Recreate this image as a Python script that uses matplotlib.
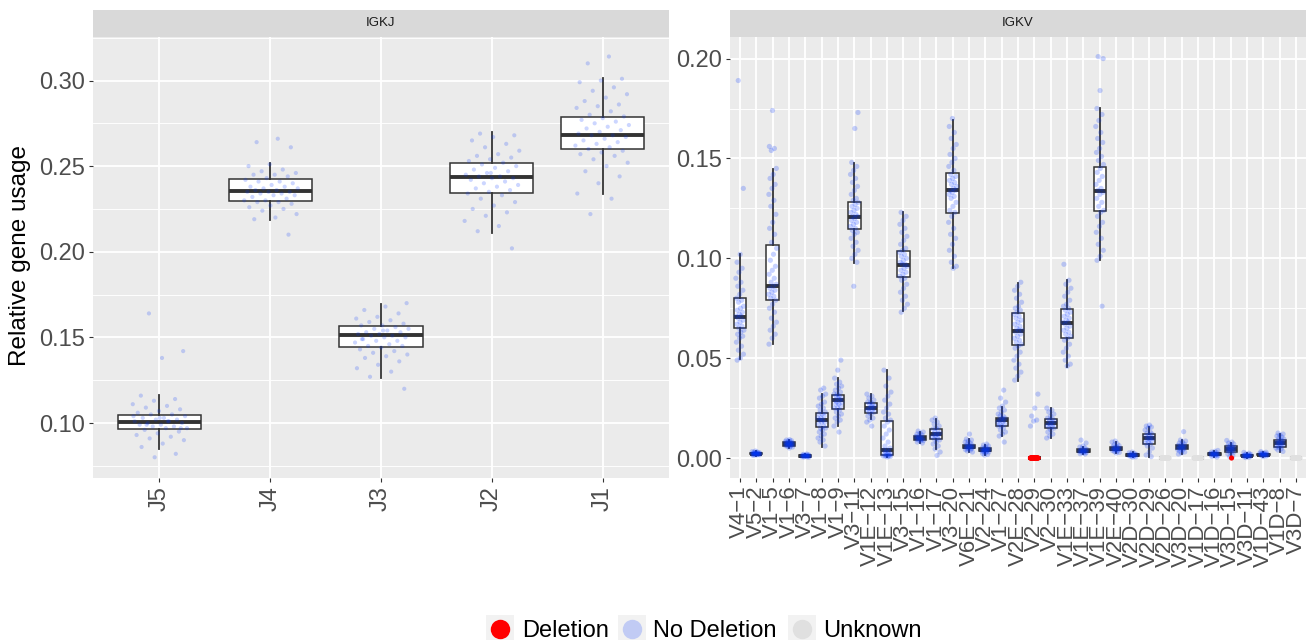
import numpy as np
import matplotlib
matplotlib.use("Agg")
import matplotlib.pyplot as plt
from matplotlib.lines import Line2D
from matplotlib.patches import Rectangle
from matplotlib import font_manager

# ---------------- data ----------------
igkj_genes = ["J5", "J4", "J3", "J2", "J1"]
igkj_q1 = [0.0965, 0.2294, 0.1443, 0.2341, 0.2598]
igkj_med = [0.1006, 0.2353, 0.1513, 0.2434, 0.2679]
igkj_q3 = [0.1047, 0.2423, 0.1566, 0.2516, 0.2784]
igkj_lo = [0.0848, 0.2184, 0.1262, 0.2108, 0.2335]
igkj_hi = [0.1163, 0.2516, 0.1694, 0.2697, 0.3017]

J5_pts = [0.164, 0.142, 0.138, 0.116, 0.114, 0.113, 0.111, 0.110, 0.109, 0.108, 0.107, 0.106,
          0.105, 0.105, 0.104, 0.103, 0.103, 0.102, 0.102, 0.101, 0.101, 0.100, 0.100, 0.099,
          0.099, 0.098, 0.098, 0.097, 0.097, 0.096, 0.095, 0.094, 0.093, 0.092, 0.091, 0.090,
          0.088, 0.086, 0.082, 0.080, 0.104, 0.101, 0.099, 0.097, 0.103]
J4_pts = [0.266, 0.264, 0.261, 0.251, 0.250, 0.248, 0.247, 0.246, 0.245, 0.245, 0.244, 0.243,
          0.242, 0.241, 0.241, 0.240, 0.239, 0.238, 0.238, 0.237, 0.237, 0.236, 0.236, 0.235,
          0.235, 0.235, 0.234, 0.234, 0.233, 0.233, 0.232, 0.231, 0.230, 0.230, 0.229, 0.229,
          0.228, 0.227, 0.226, 0.225, 0.224, 0.222, 0.220, 0.219, 0.210]
J3_pts = [0.170, 0.168, 0.166, 0.164, 0.162, 0.161, 0.160, 0.159, 0.158, 0.157, 0.157, 0.156,
          0.155, 0.155, 0.154, 0.153, 0.153, 0.152, 0.152, 0.151, 0.151, 0.150, 0.150, 0.149,
          0.148, 0.148, 0.147, 0.146, 0.145, 0.145, 0.144, 0.143, 0.142, 0.141, 0.140, 0.139,
          0.138, 0.136, 0.134, 0.132, 0.130, 0.127, 0.120, 0.154, 0.149]
J2_pts = [0.269, 0.268, 0.267, 0.265, 0.263, 0.261, 0.259, 0.257, 0.256, 0.255, 0.254, 0.253,
          0.252, 0.251, 0.250, 0.249, 0.248, 0.247, 0.246, 0.245, 0.244, 0.244, 0.243, 0.243,
          0.242, 0.241, 0.240, 0.239, 0.238, 0.237, 0.236, 0.235, 0.234, 0.233, 0.231, 0.229,
          0.227, 0.225, 0.223, 0.221, 0.218, 0.215, 0.212, 0.202, 0.246]
J1_pts = [0.314, 0.310, 0.301, 0.300, 0.299, 0.296, 0.294, 0.292, 0.290, 0.288, 0.286, 0.285,
          0.284, 0.282, 0.280, 0.279, 0.278, 0.277, 0.276, 0.275, 0.274, 0.273, 0.272, 0.271,
          0.270, 0.269, 0.268, 0.268, 0.267, 0.266, 0.265, 0.264, 0.263, 0.262, 0.261, 0.260,
          0.259, 0.258, 0.257, 0.256, 0.254, 0.252, 0.250, 0.247, 0.244, 0.240, 0.234, 0.231,
          0.222]
igkj_points = [J5_pts, J4_pts, J3_pts, J2_pts, J1_pts]

igkv_genes = ["V4−1", "V5−2", "V1−5", "V1−6", "V3−7", "V1−8", "V1−9", "V3−11", "V1E−12",
              "V1E−13", "V3−15", "V1−16", "V1−17", "V3−20", "V6E−21", "V2−24", "V1−27",
              "V2E−28", "V2−29", "V2−30", "V1E−33", "V1E−37", "V1E−39", "V2E−40", "V2D−30",
              "V2D−29", "V2D−26", "V3D−20", "V1D−17", "V1D−16", "V3D−15", "V3D−11", "V1D−43",
              "V1D−8", "V3D−7"]
igkv_q1 = [0.0651, 0.0018, 0.0791, 0.0062, 0.0007, 0.0154, 0.0244, 0.1145, 0.0227, 0.0015,
           0.0906, 0.0088, 0.0097, 0.1228, 0.0048, 0.0033, 0.0162, 0.0567, 0.0, 0.0152,
           0.0602, 0.0030, 0.1235, 0.0038, 0.0010, 0.0070, 0.0, 0.0044, 0.0, 0.0014,
           0.0030, 0.0008, 0.0013, 0.0057, 0.0]
igkv_med = [0.0708, 0.0022, 0.0863, 0.0070, 0.0010, 0.0190, 0.0290, 0.1208, 0.0250, 0.0040,
            0.0966, 0.0098, 0.0119, 0.1342, 0.0057, 0.0040, 0.0190, 0.0638, 0.0, 0.0174,
            0.0678, 0.0036, 0.1337, 0.0047, 0.0015, 0.0099, 0.0, 0.0054, 0.0, 0.0018,
            0.0045, 0.0012, 0.0017, 0.0074, 0.0]
igkv_q3 = [0.0803, 0.0026, 0.1065, 0.0078, 0.0013, 0.0224, 0.0314, 0.1280, 0.0277, 0.0187,
           0.1038, 0.0110, 0.0144, 0.1426, 0.0066, 0.0048, 0.0202, 0.0725, 0.0, 0.0194,
           0.0748, 0.0043, 0.1456, 0.0057, 0.0020, 0.0120, 0.0, 0.0064, 0.0, 0.0025,
           0.0058, 0.0017, 0.0022, 0.0090, 0.0]
igkv_lo = [0.0494, 0.0012, 0.0571, 0.0048, 0.0003, 0.0057, 0.0162, 0.0978, 0.0195, 0.0003,
           0.0738, 0.0075, 0.0044, 0.0953, 0.0030, 0.0015, 0.0110, 0.0386, 0.0, 0.0099,
           0.0454, 0.0020, 0.0992, 0.0025, 0.0003, 0.0007, 0.0, 0.0020, 0.0, 0.0005,
           0.0005, 0.0002, 0.0006, 0.0032, 0.0]
igkv_hi = [0.1020, 0.0033, 0.1449, 0.0090, 0.0019, 0.0319, 0.0399, 0.1476, 0.0319, 0.0441,
           0.1233, 0.0130, 0.0195, 0.1691, 0.0095, 0.0065, 0.0254, 0.0875, 0.0, 0.0249,
           0.0891, 0.0055, 0.1751, 0.0080, 0.0030, 0.0157, 0.0, 0.0090, 0.0, 0.0035,
           0.0075, 0.0025, 0.0030, 0.0118, 0.0]

# "No Deletion" points, one list per IGKV gene (same order as igkv_genes)
igkv_nodel_points = [
    [0.189, 0.135, 0.102, 0.098, 0.095, 0.093, 0.090, 0.088, 0.086, 0.084, 0.082, 0.080, 0.079,
     0.078, 0.076, 0.075, 0.074, 0.073, 0.072, 0.071, 0.071, 0.070, 0.069, 0.068, 0.067, 0.066,
     0.065, 0.064, 0.063, 0.062, 0.061, 0.060, 0.058, 0.056, 0.054, 0.052, 0.050, 0.049],
    [0.0035, 0.0032, 0.0030, 0.0028, 0.0027, 0.0026, 0.0025, 0.0024, 0.0023, 0.0022, 0.0022,
     0.0021, 0.0020, 0.0020, 0.0019, 0.0018, 0.0017, 0.0016, 0.0015, 0.0013],
    [0.174, 0.156, 0.155, 0.154, 0.145, 0.142, 0.140, 0.137, 0.135, 0.132, 0.129, 0.126, 0.122,
     0.118, 0.115, 0.112, 0.108, 0.105, 0.102, 0.099, 0.096, 0.094, 0.092, 0.090, 0.088, 0.087,
     0.086, 0.085, 0.084, 0.083, 0.082, 0.081, 0.080, 0.079, 0.077, 0.075, 0.073, 0.070, 0.068,
     0.066, 0.064, 0.062, 0.060, 0.057],
    [0.0092, 0.0090, 0.0087, 0.0085, 0.0082, 0.0080, 0.0078, 0.0076, 0.0075, 0.0073, 0.0072,
     0.0070, 0.0070, 0.0068, 0.0066, 0.0065, 0.0063, 0.0062, 0.0060, 0.0058, 0.0055, 0.0050],
    [0.0020, 0.0018, 0.0016, 0.0015, 0.0014, 0.0013, 0.0012, 0.0011, 0.0010, 0.0010, 0.0009,
     0.0008, 0.0007, 0.0006, 0.0005, 0.0004],
    [0.035, 0.034, 0.032, 0.031, 0.030, 0.028, 0.027, 0.026, 0.025, 0.024, 0.023, 0.022, 0.022,
     0.021, 0.020, 0.020, 0.019, 0.019, 0.018, 0.018, 0.017, 0.016, 0.015, 0.015, 0.014, 0.013,
     0.012, 0.011, 0.010, 0.009, 0.008, 0.006],
    [0.049, 0.044, 0.040, 0.038, 0.037, 0.036, 0.035, 0.034, 0.033, 0.032, 0.032, 0.031, 0.031,
     0.030, 0.030, 0.029, 0.029, 0.028, 0.028, 0.027, 0.027, 0.026, 0.025, 0.025, 0.024, 0.023,
     0.022, 0.021, 0.020, 0.019, 0.018, 0.016, 0.013],
    [0.173, 0.165, 0.148, 0.146, 0.144, 0.142, 0.140, 0.138, 0.136, 0.134, 0.132, 0.130, 0.129,
     0.128, 0.127, 0.126, 0.125, 0.124, 0.123, 0.122, 0.121, 0.121, 0.120, 0.119, 0.118, 0.117,
     0.116, 0.115, 0.114, 0.113, 0.112, 0.110, 0.108, 0.106, 0.104, 0.102, 0.100, 0.098, 0.086],
    [0.032, 0.031, 0.030, 0.029, 0.028, 0.028, 0.027, 0.027, 0.026, 0.026, 0.025, 0.025, 0.025,
     0.024, 0.024, 0.023, 0.023, 0.022, 0.021, 0.020, 0.019, 0.018, 0.016],
    [0.044, 0.040, 0.036, 0.033, 0.031, 0.029, 0.027, 0.025, 0.023, 0.022, 0.020, 0.019, 0.018,
     0.016, 0.014, 0.012, 0.010, 0.008, 0.006, 0.005, 0.004, 0.004, 0.003, 0.003, 0.002, 0.002,
     0.002, 0.0015, 0.0015, 0.001, 0.001, 0.001, 0.0008, 0.0005],
    [0.123, 0.121, 0.119, 0.117, 0.115, 0.113, 0.111, 0.109, 0.107, 0.105, 0.104, 0.103, 0.102,
     0.101, 0.100, 0.099, 0.098, 0.097, 0.097, 0.096, 0.095, 0.094, 0.093, 0.092, 0.091, 0.090,
     0.089, 0.087, 0.085, 0.083, 0.081, 0.079, 0.077, 0.075, 0.073],
    [0.0135, 0.0130, 0.0125, 0.0120, 0.0115, 0.0110, 0.0108, 0.0105, 0.0102, 0.0100, 0.0098,
     0.0095, 0.0093, 0.0090, 0.0088, 0.0085, 0.0080, 0.0075],
    [0.020, 0.019, 0.018, 0.017, 0.016, 0.015, 0.0145, 0.014, 0.013, 0.0125, 0.012, 0.0118,
     0.0115, 0.011, 0.0105, 0.010, 0.0095, 0.009, 0.008, 0.007, 0.006, 0.0045, 0.003, 0.0013],
    [0.170, 0.166, 0.163, 0.160, 0.157, 0.155, 0.152, 0.150, 0.148, 0.146, 0.144, 0.142, 0.141,
     0.140, 0.139, 0.138, 0.137, 0.136, 0.135, 0.134, 0.134, 0.133, 0.132, 0.131, 0.130, 0.128,
     0.126, 0.124, 0.123, 0.121, 0.118, 0.115, 0.112, 0.110, 0.107, 0.104, 0.101, 0.098, 0.096,
     0.095],
    [0.0120, 0.0095, 0.0090, 0.0085, 0.0080, 0.0075, 0.0070, 0.0066, 0.0063, 0.0060, 0.0058,
     0.0056, 0.0054, 0.0052, 0.0050, 0.0048, 0.0045, 0.0042, 0.0040, 0.0035, 0.0030],
    [0.0070, 0.0065, 0.0060, 0.0055, 0.0050, 0.0048, 0.0046, 0.0044, 0.0042, 0.0040, 0.0040,
     0.0038, 0.0036, 0.0034, 0.0032, 0.0030, 0.0027, 0.0023, 0.0018, 0.0015],
    [0.034, 0.030, 0.028, 0.026, 0.025, 0.024, 0.023, 0.022, 0.021, 0.021, 0.020, 0.020, 0.019,
     0.019, 0.019, 0.018, 0.018, 0.017, 0.017, 0.016, 0.016, 0.015, 0.014, 0.013, 0.012, 0.011,
     0.008],
    [0.088, 0.086, 0.084, 0.082, 0.080, 0.078, 0.076, 0.075, 0.074, 0.073, 0.072, 0.071, 0.070,
     0.069, 0.068, 0.067, 0.066, 0.065, 0.064, 0.064, 0.063, 0.062, 0.061, 0.060, 0.059, 0.058,
     0.057, 0.056, 0.055, 0.053, 0.051, 0.049, 0.047, 0.045, 0.043, 0.041, 0.039],
    [0.032, 0.025, 0.021, 0.019, 0.0185, 0.016],
    [0.025, 0.024, 0.023, 0.022, 0.021, 0.020, 0.0195, 0.019, 0.0185, 0.018, 0.0175, 0.017,
     0.0168, 0.0162, 0.0158, 0.0152, 0.015, 0.014, 0.013, 0.012, 0.011, 0.010],
    [0.097, 0.089, 0.087, 0.085, 0.083, 0.081, 0.079, 0.077, 0.076, 0.075, 0.074, 0.073, 0.072,
     0.071, 0.070, 0.069, 0.068, 0.068, 0.067, 0.066, 0.065, 0.064, 0.063, 0.062, 0.061, 0.060,
     0.059, 0.057, 0.055, 0.053, 0.051, 0.049, 0.047, 0.046],
    [0.0090, 0.0075, 0.0060, 0.0055, 0.0050, 0.0046, 0.0043, 0.0040, 0.0038, 0.0036, 0.0035,
     0.0034, 0.0032, 0.0030, 0.0028, 0.0025, 0.0022, 0.0020],
    [0.201, 0.200, 0.184, 0.175, 0.172, 0.169, 0.166, 0.163, 0.160, 0.158, 0.155, 0.153, 0.151,
     0.149, 0.147, 0.145, 0.143, 0.141, 0.139, 0.137, 0.135, 0.134, 0.133, 0.132, 0.130, 0.128,
     0.126, 0.124, 0.123, 0.121, 0.118, 0.116, 0.113, 0.110, 0.107, 0.104, 0.101, 0.099, 0.076],
    [0.0085, 0.0080, 0.0072, 0.0066, 0.0062, 0.0058, 0.0055, 0.0052, 0.0050, 0.0048, 0.0046,
     0.0044, 0.0042, 0.0040, 0.0038, 0.0035, 0.0032, 0.0028, 0.0025],
    [0.0030, 0.0026, 0.0023, 0.0020, 0.0018, 0.0016, 0.0015, 0.0014, 0.0013, 0.0012, 0.0010,
     0.0008, 0.0006, 0.0004],
    [0.0165, 0.0160, 0.0155, 0.0150, 0.0140, 0.0130, 0.0125, 0.0120, 0.0115, 0.0110, 0.0105,
     0.0100, 0.0098, 0.0095, 0.0090, 0.0085, 0.0080, 0.0075, 0.0070, 0.0060, 0.0050, 0.0030,
     0.0015, 0.0007],
    [],
    [0.0132, 0.0090, 0.0085, 0.0080, 0.0075, 0.0070, 0.0066, 0.0063, 0.0060, 0.0057, 0.0055,
     0.0053, 0.0050, 0.0048, 0.0045, 0.0042, 0.0040, 0.0035, 0.0030, 0.0025, 0.0020],
    [],
    [0.0038, 0.0034, 0.0030, 0.0027, 0.0025, 0.0023, 0.0021, 0.0020, 0.0019, 0.0018, 0.0017,
     0.0016, 0.0015, 0.0013, 0.0011, 0.0008, 0.0005],
    [0.0088, 0.0080, 0.0075, 0.0070, 0.0065, 0.0060, 0.0058, 0.0055, 0.0052, 0.0050, 0.0047,
     0.0045, 0.0042, 0.0040, 0.0037, 0.0034, 0.0030, 0.0025, 0.0020, 0.0012, 0.0006],
    [0.0028, 0.0024, 0.0020, 0.0018, 0.0016, 0.0015, 0.0014, 0.0013, 0.0012, 0.0011, 0.0010,
     0.0009, 0.0008, 0.0006, 0.0004, 0.0002],
    [0.0032, 0.0029, 0.0026, 0.0024, 0.0022, 0.0021, 0.0020, 0.0019, 0.0018, 0.0017, 0.0016,
     0.0015, 0.0014, 0.0012, 0.0010, 0.0007],
    [0.0125, 0.0120, 0.0115, 0.0110, 0.0105, 0.0100, 0.0095, 0.0090, 0.0087, 0.0083, 0.0080,
     0.0077, 0.0075, 0.0072, 0.0070, 0.0066, 0.0062, 0.0058, 0.0054, 0.0050, 0.0045, 0.0040,
     0.0033],
    [],
]

# "Deletion" points (gene, values)
deletion_genes = ["V2−29", "V3D−15"]
deletion_values = [
    [0.0, 0.0, 0.0, 0.0, 0.0, 0.0, 0.0, 0.0, 0.0, 0.0, 0.0, 0.0, 0.0, 0.0, 0.0, 0.0, 0.0, 0.0,
     0.0, 0.0, 0.0, 0.0, 0.0, 0.0],
    [0.0],
]
# "Unknown" points (gene, values)
unknown_genes = ["V2D−26", "V1D−17", "V3D−7"]
unknown_values = [
    [0.0, 0.0, 0.0, 0.0, 0.0, 0.0, 0.0, 0.0, 0.0, 0.0, 0.0, 0.0, 0.0, 0.0, 0.0, 0.0, 0.0, 0.0],
    [0.0, 0.0, 0.0, 0.0, 0.0, 0.0, 0.0, 0.0, 0.0, 0.0, 0.0, 0.0, 0.0, 0.0, 0.0, 0.0, 0.0, 0.0],
    [0.0, 0.0, 0.0, 0.0, 0.0, 0.0, 0.0, 0.0, 0.0, 0.0, 0.0, 0.0, 0.0, 0.0, 0.0, 0.0, 0.0, 0.0],
]

legend_labels = ["Deletion", "No Deletion", "Unknown"]

# ---------------- style ----------------
available = {f.name for f in font_manager.fontManager.ttflist}
NARROW = "Liberation Sans Narrow" if "Liberation Sans Narrow" in available else "Liberation Sans"
REG = "Liberation Sans"
plt.rcParams["font.family"] = [NARROW, "DejaVu Sans"]

BLUE = "#0033FF"
RED = "#FF0000"
GREY_PT = "#E0E0E0"
PANEL_BG = "#EBEBEB"
STRIP_BG = "#D9D9D9"
BOX_EDGE = "#333333"
TICK_COL = "#4D4D4D"

W, H = 1306, 640
fig = plt.figure(figsize=(W / 100, H / 100), dpi=100)

def fx(px):
    return px / W

def fy(py):
    return 1 - py / H

panel_top, panel_bot = 37, 478
strip_top = 10


def jitter(n, seed_shift, width=0.25):
    k = np.arange(n) + seed_shift
    return ((k * 0.6180339887 + 0.31) % 1.0 - 0.5) * 2 * width


def style_axes(ax, xlim, ylim, majors, minors, fmt, labels, xsize):
    ax.set_facecolor(PANEL_BG)
    for s in ax.spines.values():
        s.set_visible(False)
    ax.set_xlim(*xlim)
    ax.set_ylim(*ylim)
    ax.set_yticks(majors)
    ax.set_yticklabels([fmt.format(v) for v in majors])
    ax.set_yticks(minors, minor=True)
    n = len(labels)
    ax.set_xticks(np.arange(n))
    ax.set_xticklabels(labels, rotation=90)
    ax.grid(True, which="major", color="white", linewidth=1.3)
    ax.grid(True, which="minor", axis="y", color="white", linewidth=0.65)
    ax.set_axisbelow(True)
    ax.tick_params(which="major", length=3.0, width=0.8, color=BOX_EDGE,
                   labelcolor=TICK_COL, labelsize=17, pad=2.5)
    ax.tick_params(axis="x", which="major", labelsize=xsize)
    ax.tick_params(which="minor", length=0)


def add_strip(x0, x1, label):
    sax = fig.add_axes([fx(x0), fy(panel_top), fx(x1 - x0), (panel_top - strip_top) / H])
    sax.set_facecolor(STRIP_BG)
    sax.set_xticks([])
    sax.set_yticks([])
    for s in sax.spines.values():
        s.set_visible(False)
    sax.text(0.5, 0.5, label, ha="center", va="center", fontsize=9.5, color="#1A1A1A",
             transform=sax.transAxes)


def draw_boxes(ax, q1, med, q3, lo, hi):
    stats = [dict(q1=a, med=b, q3=c, whislo=d, whishi=e, fliers=[])
             for a, b, c, d, e in zip(q1, med, q3, lo, hi)]
    ax.bxp(stats, positions=np.arange(len(stats)), widths=0.75, patch_artist=True,
           showfliers=False, showcaps=False,
           boxprops=dict(facecolor="white", edgecolor=BOX_EDGE, linewidth=1.1),
           whiskerprops=dict(color=BOX_EDGE, linewidth=1.3),
           medianprops=dict(color=BOX_EDGE, linewidth=2.8, solid_capstyle="butt"),
           manage_ticks=False)


# ---------------- left panel: IGKJ ----------------
L0, L1 = 93, 669
axL = fig.add_axes([fx(L0), fy(panel_bot), fx(L1 - L0), (panel_bot - panel_top) / H])
style_axes(axL, (-0.6, 4.6), (0.0679, 0.3254),
           [0.10, 0.15, 0.20, 0.25, 0.30],
           [0.075, 0.125, 0.175, 0.225, 0.275, 0.325], "{:.2f}", igkj_genes, 17)
draw_boxes(axL, igkj_q1, igkj_med, igkj_q3, igkj_lo, igkj_hi)
for i, pts in enumerate(igkj_points):
    xs = i + jitter(len(pts), i * 7)
    axL.scatter(xs, pts, s=9, color=BLUE, alpha=0.2, edgecolors="none", zorder=5)
add_strip(L0, L1, "IGKJ")

# ---------------- right panel: IGKV ----------------
R0, R1 = 730, 1306
axR = fig.add_axes([fx(R0), fy(panel_bot), fx(R1 - R0), (panel_bot - panel_top) / H])
style_axes(axR, (-0.6, len(igkv_genes) - 0.4), (-0.0100, 0.2108),
           [0.00, 0.05, 0.10, 0.15, 0.20],
           [0.025, 0.075, 0.125, 0.175], "{:.2f}", igkv_genes, 16)
draw_boxes(axR, igkv_q1, igkv_med, igkv_q3, igkv_lo, igkv_hi)
for i, pts in enumerate(igkv_nodel_points):
    if not pts:
        continue
    xs = i + jitter(len(pts), i * 5)
    axR.scatter(xs, pts, s=14, color=BLUE, alpha=0.22, edgecolors="none", zorder=5)
for g, vals in zip(unknown_genes, unknown_values):
    i = igkv_genes.index(g)
    xs = i + jitter(len(vals), 3)
    axR.scatter(xs, vals, s=14, color=GREY_PT, edgecolors="none", zorder=6)
for g, vals in zip(deletion_genes, deletion_values):
    i = igkv_genes.index(g)
    xs = i + (jitter(len(vals), 3) if len(vals) > 1 else np.array([0.05]))
    axR.scatter(xs, vals, s=14, color=RED, edgecolors="none", zorder=7)
add_strip(R0, R1, "IGKV")

# ---------------- y-axis title ----------------
fig.text(fx(20), fy(256), "Relative gene usage", rotation=90, ha="center", va="center",
         fontsize=17.5, color="black", family=[REG, "DejaVu Sans"])

# ---------------- legend ----------------
key_centers = [500, 632, 802]
text_x = [522, 653, 823]
key_colors = [RED, BLUE, GREY_PT]
key_alpha = [1.0, 0.2, 1.0]
for kc, tx, lab, col, al in zip(key_centers, text_x, legend_labels, key_colors, key_alpha):
    fig.add_artist(Rectangle((fx(kc - 14), fy(643)), fx(28), 28 / H,
                             transform=fig.transFigure, facecolor="#F2F2F2",
                             edgecolor="none"))
    fig.add_artist(Line2D([fx(kc)], [fy(629)], transform=fig.transFigure, marker="o",
                          linestyle="", markersize=14, markerfacecolor=col,
                          markeredgecolor="none", alpha=al))
    fig.text(fx(tx), fy(637), lab, ha="left", va="baseline", fontsize=17, color="black",
             family=[REG, "DejaVu Sans"])

fig.savefig("out.png", dpi=100)
